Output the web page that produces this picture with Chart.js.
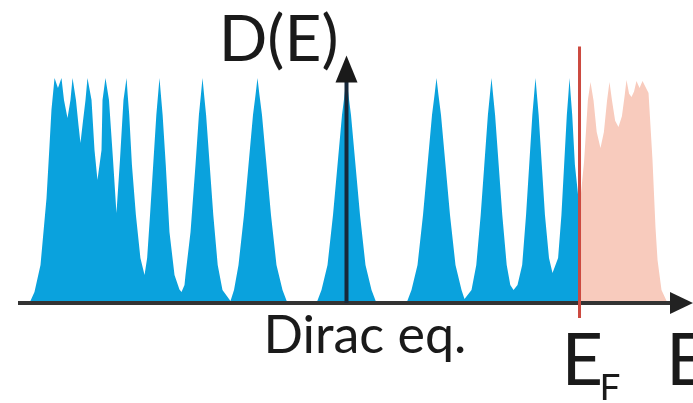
<!DOCTYPE html>
<html>
<head>
<meta charset="utf-8">
<script src="https://cdn.jsdelivr.net/npm/chart.js@4.4.1/dist/chart.umd.min.js"></script>
<style>
  html, body { margin: 0; padding: 0; background: #fff; }
  .graph-component { width: 693px; height: 403px; position: relative; }
</style>
</head>
<body>
<div class="graph-component">
  <canvas id="myChart"></canvas>
</div>
<script>
// Energy (Dirac point = 0, first Landau level = 1) and density of states (peak = 1)
const blueEnergy = [
  -3.522, -3.467, -3.40, -3.333, -3.30, -3.278, -3.261, -3.244, -3.206, -3.167,
  -3.139, -3.10, -3.067, -3.044, -3.006, -2.978, -2.956, -2.933, -2.90, -2.878,
  -2.833, -2.80, -2.767, -2.722, -2.711, -2.678,
  -2.639, -2.594, -2.556, -2.517, -2.478, -2.444,
  -2.431, -2.414, -2.384, -2.34, -2.29, -2.244, -2.215, -2.183, -2.148, -2.113, -2.094, -2.078,
  -2.062, -2.043, -2.008, -1.967, -1.911, -1.856, -1.833, -1.80, -1.789, -1.733, -1.678, -1.64, -1.618, -1.60,
  -1.582, -1.56, -1.52, -1.48, -1.431, -1.378, -1.289, -1.25, -1.20, -1.139, -1.089, -1.039, -1.011, -0.989,
  -0.967, -0.939, -0.889, -0.839, -0.778, -0.711, -0.656,
  -0.333, -0.278, -0.211, -0.15, -0.10, -0.05, -0.022, 0, 0.022, 0.05, 0.10, 0.15, 0.211, 0.278, 0.333,
  0.667, 0.722, 0.789, 0.85, 0.90, 0.95, 0.978, 1.0, 1.022, 1.05, 1.10, 1.15, 1.211, 1.278, 1.311,
  1.389, 1.442, 1.491, 1.531, 1.571, 1.593, 1.611, 1.629, 1.651, 1.691, 1.731, 1.78, 1.82, 1.856,
  1.90, 1.952, 1.995, 2.03, 2.065, 2.084, 2.10, 2.116, 2.135, 2.17, 2.205, 2.25, 2.289,
  2.351, 2.388, 2.418, 2.448, 2.465, 2.478, 2.491, 2.508, 2.538, 2.589, 2.589
];
const blueDos = [
  0, 0.049, 0.169, 0.467, 0.70, 0.86, 0.93, 1, 0.956, 1,
  0.902, 0.822, 0.902, 1, 0.902, 0.791, 0.711, 0.791, 0.902, 1,
  0.902, 0.68, 0.547, 0.68, 0.902, 1,
  0.902, 0.636, 0.40, 0.636, 0.902, 1,
  0.924, 0.836, 0.613, 0.391, 0.2, 0.124, 0.2, 0.391, 0.613, 0.836, 0.924, 1,
  0.924, 0.836, 0.613, 0.316, 0.124, 0.06, 0.049, 0.08, 0.124, 0.316, 0.613, 0.836, 0.924, 1,
  0.924, 0.836, 0.613, 0.391, 0.169, 0.058, 0.009, 0.058, 0.169, 0.391, 0.613, 0.836, 0.924, 1,
  0.924, 0.836, 0.613, 0.391, 0.169, 0.058, 0,
  0, 0.058, 0.169, 0.391, 0.613, 0.836, 0.924, 1, 0.924, 0.836, 0.613, 0.391, 0.169, 0.058, 0,
  0, 0.058, 0.169, 0.391, 0.613, 0.836, 0.924, 1, 0.924, 0.836, 0.613, 0.391, 0.169, 0.058, 0.018,
  0.058, 0.169, 0.391, 0.613, 0.836, 0.924, 1, 0.924, 0.836, 0.613, 0.391, 0.169, 0.08, 0.058,
  0.08, 0.169, 0.391, 0.613, 0.836, 0.924, 1, 0.924, 0.836, 0.613, 0.391, 0.2, 0.133,
  0.2, 0.391, 0.613, 0.836, 0.924, 1, 0.924, 0.836, 0.613, 0.42, 0
];

// empty states above the Fermi level
const pinkEnergy = [
  2.589, 2.589, 2.64, 2.682, 2.711, 2.745, 2.78, 2.822, 2.86, 2.895, 2.922,
  2.95, 2.985, 3.022, 3.06, 3.09, 3.111, 3.14, 3.167, 3.195, 3.222,
  3.256, 3.289, 3.356, 3.40, 3.433, 3.456, 3.50, 3.567
];
const pinkDos = [
  0, 0.42, 0.63, 0.902, 0.982, 0.90, 0.76, 0.689, 0.76, 0.90, 0.982,
  0.90, 0.81, 0.782, 0.83, 0.92, 0.991, 0.93, 0.916, 0.94, 0.987,
  0.956, 0.987, 0.933, 0.636, 0.338, 0.191, 0.058, 0
];

const fermiEnergy = 2.589;
const energyRange = [-3.65, 3.85];
const dosRange = [0, 1.1];

const toPoints = (xs, ys) => xs.map((x, i) => ({ x: x, y: ys[i] }));

const axesAndLabels = {
  id: "axesAndLabels",
  afterDatasetsDraw(chart) {
    const ctx = chart.ctx;
    const sx = chart.scales.x;
    const sy = chart.scales.y;
    const x0 = sx.getPixelForValue(0);
    const y0 = sy.getPixelForValue(0);
    const xStart = sx.getPixelForValue(sx.min);
    const xEnd = sx.getPixelForValue(sx.max);
    const yTop = sy.getPixelForValue(sy.max);
    const xF = sx.getPixelForValue(fermiEnergy);

    ctx.save();
    // horizontal axis
    ctx.strokeStyle = "#333333";
    ctx.fillStyle = "#222222";
    ctx.lineWidth = 4;
    ctx.beginPath();
    ctx.moveTo(xStart, y0);
    ctx.lineTo(xEnd - 18, y0);
    ctx.stroke();
    ctx.beginPath();
    ctx.moveTo(xEnd, y0);
    ctx.lineTo(xEnd - 23, y0 - 11);
    ctx.lineTo(xEnd - 23, y0 + 11);
    ctx.closePath();
    ctx.fill();

    // vertical axis
    ctx.strokeStyle = "#17283a";
    ctx.fillStyle = "#1a1a1a";
    ctx.beginPath();
    ctx.moveTo(x0, y0);
    ctx.lineTo(x0, yTop + 20);
    ctx.stroke();
    ctx.beginPath();
    ctx.moveTo(x0, yTop);
    ctx.lineTo(x0 - 11, yTop + 27);
    ctx.lineTo(x0 + 11, yTop + 27);
    ctx.closePath();
    ctx.fill();

    // Fermi level
    ctx.strokeStyle = "#cc4a40";
    ctx.lineWidth = 3;
    ctx.beginPath();
    ctx.moveTo(xF, sy.getPixelForValue(1.14));
    ctx.lineTo(xF, sy.getPixelForValue(-0.067));
    ctx.stroke();

    // labels
    ctx.fillStyle = "#1a1a1a";
    ctx.textBaseline = "alphabetic";
    ctx.textAlign = "right";
    ctx.font = "64px Lato";
    ctx.fillText("D(E)", x0 - 8, yTop + 5);
    ctx.textAlign = "left";
    ctx.font = "52px Lato";
    ctx.fillText("Dirac eq.", x0 - 83, y0 + 50);
    ctx.font = "72px Lato";
    ctx.fillText("E", xF - 18, y0 + 82);
    ctx.fillText("E", xEnd - 27, y0 + 82);
    ctx.font = "37px Lato";
    ctx.fillText("F", xF + 20, y0 + 97);
    ctx.restore();
  }
};

const ctx = document.getElementById("myChart").getContext("2d");
new Chart(ctx, {
  type: "line",
  data: {
    datasets: [
      {
        label: "occupied",
        data: toPoints(blueEnergy, blueDos),
        backgroundColor: "#0aa2dd",
        borderWidth: 0,
        pointRadius: 0,
        tension: 0,
        fill: "origin"
      },
      {
        label: "empty",
        data: toPoints(pinkEnergy, pinkDos),
        backgroundColor: "#f8cbbd",
        borderWidth: 0,
        pointRadius: 0,
        tension: 0,
        fill: "origin"
      }
    ]
  },
  options: {
    responsive: true,
    maintainAspectRatio: false,
    animation: false,
    devicePixelRatio: 1,
    layout: { padding: { left: 18, right: 0, top: 55.5, bottom: 100 } },
    scales: {
      x: { type: "linear", min: energyRange[0], max: energyRange[1], display: false },
      y: { type: "linear", min: dosRange[0], max: dosRange[1], display: false }
    },
    plugins: {
      legend: { display: false },
      tooltip: { enabled: false }
    }
  },
  plugins: [axesAndLabels]
});
</script>
</body>
</html>
